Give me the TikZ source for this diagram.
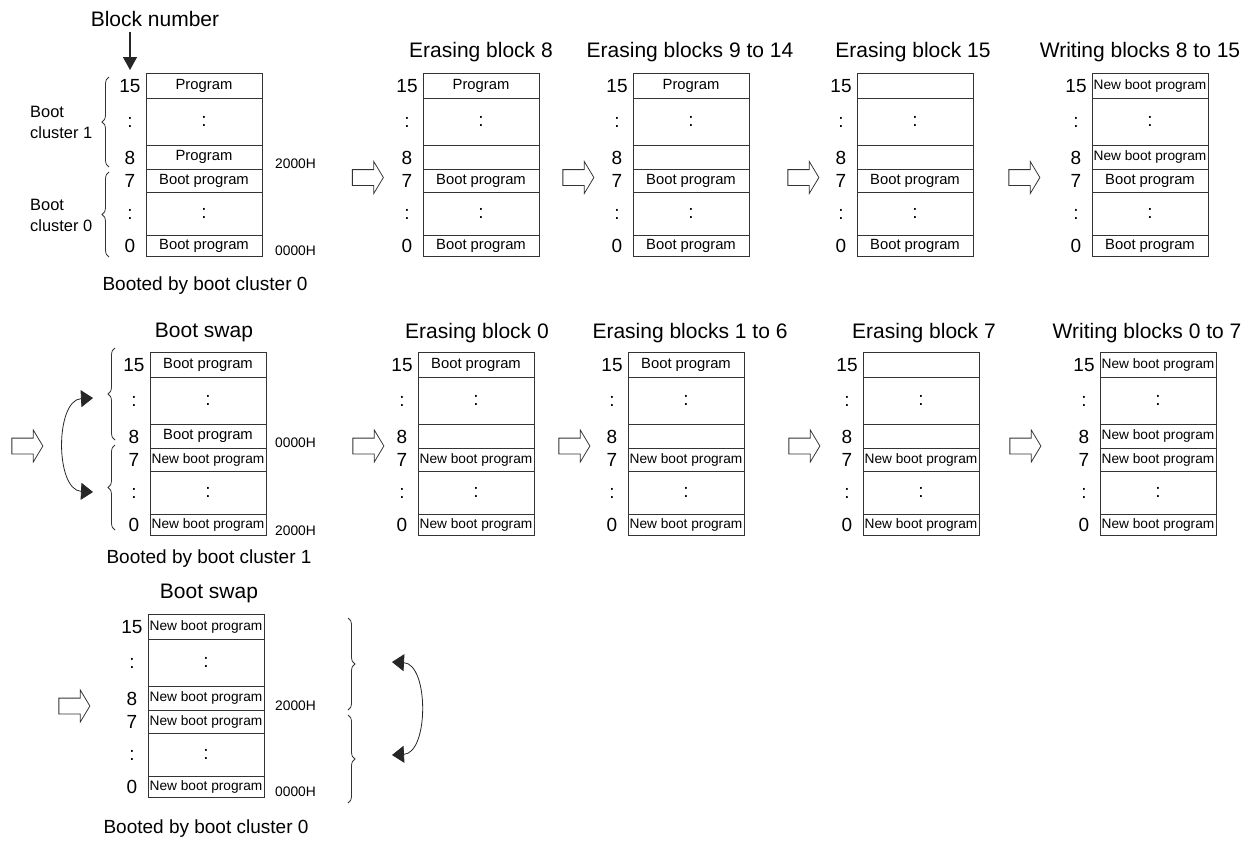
\documentclass[tikz,border=0pt]{standalone}
\usepackage{fontspec}
\setmainfont{Liberation Sans}
\usetikzlibrary{arrows.meta,shapes.arrows,decorations.pathreplacing}
\newcommand{\newboot}{{\fontsize{13.7}{15}\selectfont New boot program}}
\newcommand{\colonmark}{{\fontsize{19}{22}\selectfont :}}
\tikzset{
  cell/.style={draw=black!80,line width=0.9pt,minimum width=116pt,anchor=north west,inner sep=0pt,outer sep=0pt,font=\fontsize{14.8}{16}\selectfont},
  num/.style={inner sep=0pt,font=\fontsize{19}{22}\selectfont},
  addr/.style={anchor=west,inner sep=0pt,font=\fontsize{13.8}{16}\selectfont},
  heading/.style={anchor=base,inner sep=0pt,font=\fontsize{21}{24}\selectfont},
  booted/.style={anchor=base,inner sep=0pt,font=\fontsize{19}{22}\selectfont},
  cluster/.style={anchor=west,align=left,inner sep=0pt,font=\fontsize{16.4}{21}\selectfont},
  hollow/.style={shape=single arrow,draw=black!80,line width=0.8pt,minimum height=31pt,minimum width=31pt,single arrow head extend=8pt,single arrow tip angle=118,inner xsep=0pt,inner ysep=7.5pt},
  brc/.style={decorate,decoration={brace,amplitude=7pt},draw=black!80,line width=0.8pt},
  swaparc/.style={draw=black!85,line width=0.8pt,{Triangle[length=12pt,width=17pt]}-{Triangle[length=12pt,width=17pt]}},
}
\begin{document}
\begin{tikzpicture}[x=1pt,y=-1pt]
\useasboundingbox (0,0) rectangle (1255,841);
% memory maps: name/left/top/block15/block8/block7/block0
\foreach \id/\x/\y/\ta/\tb/\tc/\td in {
  m1/146/73/Program/Program/Boot program/Boot program,
  m2/423/73/Program/{}/Boot program/Boot program,
  m3/633/73/Program/{}/Boot program/Boot program,
  m4/857/73/{}/{}/Boot program/Boot program,
  m5/1092/73/\newboot/\newboot/Boot program/Boot program,
  m6/150/352/Boot program/Boot program/\newboot/\newboot,
  m7/418/352/Boot program/{}/\newboot/\newboot,
  m8/628/352/Boot program/{}/\newboot/\newboot,
  m9/863/352/{}/{}/\newboot/\newboot,
  m10/1100/352/\newboot/\newboot/\newboot/\newboot,
  m11/148/614/\newboot/\newboot/\newboot/\newboot}{
  \node[cell,minimum height=25pt] (\id-15) at (\x,\y) {\ta};
  \node[cell,minimum height=47pt] (\id-d1) at (\x,\y+25) {\colonmark};
  \node[cell,minimum height=24pt] (\id-8) at (\x,\y+72) {\tb};
  \node[cell,minimum height=23pt] (\id-7) at (\x,\y+96) {\tc};
  \node[cell,minimum height=43pt] (\id-d0) at (\x,\y+119) {\colonmark};
  \node[cell,minimum height=21pt] (\id-0) at (\x,\y+162) {\td};
  \node[num] (\id-n15) at (\x-16,\y+13) {15};
  \node[num] (\id-nd1) at (\x-16,\y+49) {:};
  \node[num] (\id-n8) at (\x-16,\y+85) {8};
  \node[num] (\id-n7) at (\x-16,\y+108) {7};
  \node[num] (\id-nd0) at (\x-16,\y+141) {:};
  \node[num] (\id-n0) at (\x-16,\y+173) {0};
}
% titles
\node[heading] (t1) at (155,26) {Block number};
\node[heading] (t2) at (481,57) {Erasing block 8};
\node[heading] (t3) at (690,57) {Erasing blocks 9 to 14};
\node[heading] (t4) at (913,57) {Erasing block 15};
\node[heading] (t5) at (1140,57) {Writing blocks 8 to 15};
\node[heading] (t6) at (204,337) {Boot swap};
\node[heading] (t7) at (477,338) {Erasing block 0};
\node[heading] (t8) at (690,338) {Erasing blocks 1 to 6};
\node[heading] (t9) at (924,338) {Erasing block 7};
\node[heading] (t10) at (1147,338) {Writing blocks 0 to 7};
\node[heading] (t11) at (209,598) {Boot swap};
\node[booted] (b1) at (205,290) {Booted by boot cluster 0};
\node[booted] (b2) at (209,563) {Booted by boot cluster 1};
\node[booted] (b3) at (206,833) {Booted by boot cluster 0};
% addresses
\node[addr] (m1-a8) at (275,164) {2000H};
\node[addr] (m1-a0) at (275,251) {0000H};
\node[addr] (m6-a8) at (275,443) {0000H};
\node[addr] (m6-a0) at (275,531) {2000H};
\node[addr] (m11-a8) at (275,706) {2000H};
\node[addr] (m11-a0) at (275,792) {0000H};
% boot clusters
\node[cluster] (c1) at (30,122.5) {Boot\\cluster 1};
\node[cluster] (c0) at (30,215) {Boot\\cluster 0};
\draw[brc] (109,167) -- (109,77);
\draw[brc] (109,257) -- (109,172);
\draw[brc] (115,440) -- (115,348);
\draw[brc] (115,530) -- (115,445);
\draw[brc] (348,618) -- (348,710);
\draw[brc] (348,715) -- (348,803);
% block number arrow
\coordinate (bn-tip) at (130,70);
\draw[line width=1.3pt,draw=black!85,-{Triangle[length=13pt,width=14pt]}] ([yshift=-6pt]t1.south -| bn-tip) -- (bn-tip);
% swap arcs
\coordinate (sw6-a) at (93,398);
\coordinate (sw6-b) at (93,492);
\draw[swaparc] (sw6-a) .. controls (55,400) and (55,490) .. (sw6-b);
\coordinate (sw11-a) at (392,662);
\coordinate (sw11-b) at (392,755);
\draw[swaparc] (sw11-a) .. controls (429,664) and (429,753) .. (sw11-b);
% step arrows
\node[hollow] (h1) at (365.5,177.5) {};
\node[hollow] (h2) at (576,177.5) {};
\node[hollow] (h3) at (801,177.5) {};
\node[hollow] (h4) at (1022,177.5) {};
\node[hollow] (h5) at (25,446) {};
\node[hollow] (h6) at (366,446) {};
\node[hollow] (h7) at (572,446) {};
\node[hollow] (h8) at (802,446) {};
\node[hollow] (h9) at (1023,446) {};
\node[hollow] (h10) at (72,706) {};
\end{tikzpicture}
\end{document}
